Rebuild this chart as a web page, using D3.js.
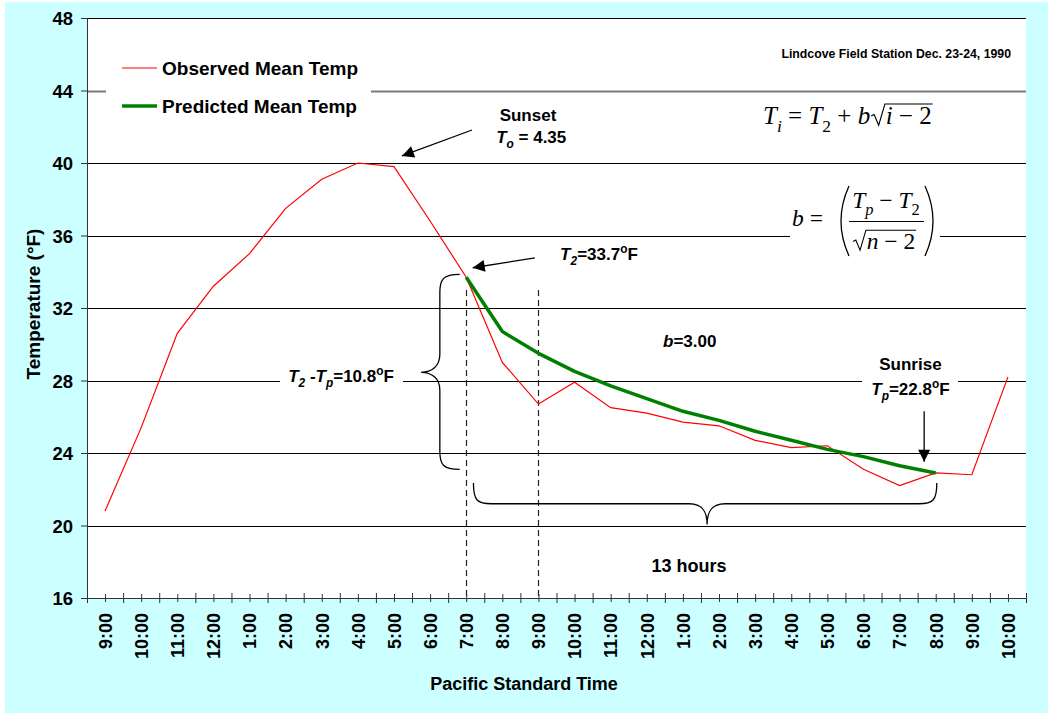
<!DOCTYPE html>
<html><head><meta charset="utf-8">
<script src="https://cdn.jsdelivr.net/npm/d3@7"></script>
<style>
body{margin:0;background:#fff}
svg{display:block}
text{font-family:"Liberation Sans",Arial,Helvetica,sans-serif;fill:#000}
.serif{font-family:"Liberation Serif","Times New Roman",serif}
</style>
</head><body>
<svg id="c" width="1048" height="713"></svg>
<script>
// ---------------- data ----------------
const categories = ["9:00","10:00","11:00","12:00","1:00","2:00","3:00","4:00","5:00","6:00","7:00","8:00","9:00",
  "10:00","11:00","12:00","1:00","2:00","3:00","4:00","5:00","6:00","7:00","8:00","9:00","10:00"];
const observed = [20.8,25.4,30.6,33.2,35.0,37.5,39.1,40.0,39.8,36.8,33.7,29.0,26.7,
  27.9,26.5,26.2,25.7,25.5,24.7,24.3,24.4,23.1,22.2,22.9,22.8,28.2];
const predictedStartIndex = 10;   // 7:00 (sunset + 2h)
const predicted = [33.7,30.7,29.5,28.5,27.7,27.0,26.3,25.8,25.2,24.7,24.2,23.8,23.3,22.9];
const yTicks = [16,20,24,28,32,36,40,44,48];
const seriesNames = ["Observed Mean Temp","Predicted Mean Temp"];
const seriesColors = ["#ff0000","#008000"];

// ---------------- layout ----------------
const W = 1048, H = 713;
const plot = {l:87, t:18, r:1026, b:598};
const svg = d3.select("#c");

const xi = d3.scaleLinear().domain([-0.5, categories.length-0.5]).range([plot.l, plot.r]);
const y = d3.scaleLinear().domain([16,48]).range([plot.b, plot.t]);

// background
svg.append("rect").attr("x",5).attr("y",2).attr("width",W-5).attr("height",H-2).attr("fill","#ccffff");
svg.append("rect").attr("x",plot.l).attr("y",plot.t).attr("width",plot.r-plot.l).attr("height",plot.b-plot.t).attr("fill","#fff");

// gridlines
svg.append("g").selectAll("line").data(yTicks.filter(v=>v>16)).join("line")
  .attr("x1",plot.l).attr("x2",plot.r)
  .attr("y1",d=>Math.round(y(d))+0.5).attr("y2",d=>Math.round(y(d))+0.5)
  .attr("stroke",d=>d===44?"#7a7a7a":"#000")
  .attr("stroke-width",d=>d===44?2:1);

// white boxes that interrupt gridlines
const wbox = (x0,y0,x1,y1)=>svg.append("rect").attr("x",x0).attr("y",y0).attr("width",x1-x0).attr("height",y1-y0).attr("fill","#fff");
wbox(106,48,371,128);          // legend
wbox(280,365,403,392);         // T2-Tp label
wbox(862,352,958,402);         // sunrise label
wbox(790,178,940,258);         // b equation

// vertical dashed lines at 7:00 and 9:00
svg.append("g").selectAll("line").data([10,12]).join("line")
  .attr("x1",d=>Math.round(xi(d))+0.5).attr("x2",d=>Math.round(xi(d))+0.5)
  .attr("y1",y(33.0)).attr("y2",plot.b)
  .attr("stroke","#222").attr("stroke-width",1.2).attr("stroke-dasharray","6,4");

// series
const line = d3.line().x(d=>xi(d[0])).y(d=>y(d[1]));
svg.append("path").datum(observed.map((v,i)=>[i,v])).attr("d",line)
  .attr("fill","none").attr("stroke",seriesColors[0]).attr("stroke-width",1.2);
svg.append("path").datum(predicted.map((v,i)=>[i+predictedStartIndex,v])).attr("d",line)
  .attr("fill","none").attr("stroke",seriesColors[1]).attr("stroke-width",3.5).attr("stroke-linejoin","round");

// braces
(function(){
  const xe = xi(9.82), xs = xi(9.27), xt = xi(8.75);
  const yt = y(33.85), yb = y(23.1), ym = y(28.45);
  const p = `M${xe},${yt} C${xs+3},${yt} ${xs},${yt+5} ${xs},${yt+18} L${xs},${ym-18} C${xs},${ym-6} ${xs-8},${ym} ${xt},${ym}
    C${xs-8},${ym} ${xs},${ym+6} ${xs},${ym+18} L${xs},${yb-18} C${xs},${yb-5} ${xs+3},${yb} ${xe},${yb}`;
  svg.append("path").attr("d",p).attr("fill","none").attr("stroke","#000").attr("stroke-width",1.3);
  const xl = xi(10.2), xr = xi(23.03), xm = xi(16.67);
  const ye = y(22.35), ysp = y(21.2), ytip = y(20.05);
  const q = `M${xl},${ye} C${xl},${ysp-3} ${xl+4},${ysp} ${xl+18},${ysp} L${xm-18},${ysp} C${xm-6},${ysp} ${xm},${ysp+6} ${xm},${ytip}
    C${xm},${ysp+6} ${xm+6},${ysp} ${xm+18},${ysp} L${xr-18},${ysp} C${xr-4},${ysp} ${xr},${ysp-3} ${xr},${ye}`;
  svg.append("path").attr("d",q).attr("fill","none").attr("stroke","#000").attr("stroke-width",1.3);
})();

// arrows
const defs = svg.append("defs");
defs.append("marker").attr("id","ah").attr("viewBox","0 0 10 10").attr("refX",10).attr("refY",5)
  .attr("markerWidth",16).attr("markerHeight",12).attr("markerUnits","userSpaceOnUse").attr("orient","auto")
  .append("path").attr("d","M0,0 L10,5 L0,10 Z").attr("fill","#000");
const arrow = (a,b)=>svg.append("line").attr("x1",xi(a[0])).attr("y1",y(a[1])).attr("x2",xi(b[0])).attr("y2",y(b[1]))
  .attr("stroke","#000").attr("stroke-width",1.3).attr("marker-end","url(#ah)");
arrow([10.16,41.82],[8.22,40.39]);  // sunset
arrow([11.9,34.76],[10.18,34.22]);  // T2
arrow([22.68,26.3],[22.68,23.52]);  // sunrise

// rich text helper
function rich(x, yy, segs, o){
  const t = svg.append("text").attr("x",x).attr("y",yy).attr("text-anchor",o.anchor||"start")
    .style("font-size",o.size+"px").style("font-weight",o.weight||"bold");
  if(o.cls) t.attr("class",o.cls);
  let shift = 0;
  segs.forEach(s=>{
    const target = s.sub ? o.size*0.3 : s.sup ? -o.size*0.42 : 0;
    const ts = t.append("tspan").attr("dy",target-shift).text(s.t);
    shift = target;
    if(s.sub||s.sup) ts.style("font-size",(o.size*0.7)+"px");
    if(s.i) ts.style("font-style","italic");
  });
  return t;
}

// annotation texts
const AS = 17;
rich(xi(11.71), y(42.3), [{t:"Sunset"}], {size:AS, anchor:"middle"});
rich(xi(11.8), y(41.1), [{t:"T",i:1},{t:"o",i:1,sub:1},{t:" = 4.35"}], {size:AS, anchor:"middle"});
rich(xi(12.6), y(34.65), [{t:"T",i:1},{t:"2",i:1,sub:1},{t:"=33.7"},{t:"o",sup:1},{t:"F"}], {size:AS});
rich(xi(15.45), y(29.85), [{t:"b",i:1},{t:"=3.00"}], {size:AS});
rich(xi(5.07), y(27.9), [{t:"T",i:1},{t:"2",i:1,sub:1},{t:" -"},{t:"T",i:1},{t:"p",i:1,sub:1},{t:"=10.8"},{t:"o",sup:1},{t:"F"}], {size:AS});
rich(xi(22.3), y(28.58), [{t:"Sunrise"}], {size:AS, anchor:"middle"});
rich(xi(22.3), y(27.2), [{t:"T",i:1},{t:"p",i:1,sub:1},{t:"=22.8"},{t:"o",sup:1},{t:"F"}], {size:AS, anchor:"middle"});
rich(xi(16.17), y(17.45), [{t:"13 hours"}], {size:18, anchor:"middle"});
svg.append("text").attr("x",1011).attr("y",58).attr("text-anchor","end")
  .style("font-size","12.3px").style("font-weight","bold").text("Lindcove Field Station Dec. 23-24, 1990");

// equations
function radical(x0, yb, s, content){
  const g = svg.append("g");
  const tx = x0 + 0.58*s;
  const t = g.append("text").attr("class","serif").attr("x",tx).attr("y",yb).style("font-size",s+"px");
  content.forEach(c=>{ const ts=t.append("tspan").text(c.t); if(c.i) ts.style("font-style","italic"); });
  const w = t.node().getComputedTextLength();
  const top = yb - 0.8*s;
  g.append("path").attr("d",`M${x0},${yb-0.32*s} L${x0+0.12*s},${yb-0.38*s} L${x0+0.3*s},${yb+0.05*s} L${x0+0.55*s},${top} L${tx+w+1},${top}`)
    .attr("fill","none").attr("stroke","#000").attr("stroke-width",1.1);
  return tx + w - x0;
}
(function(){
  const s = 25, x0 = 763, yb = 124;
  const t = rich(x0, yb, [{t:"T",i:1},{t:"i",i:1,sub:1},{t:" = "},{t:"T",i:1},{t:"2",sub:1},{t:" + "},{t:"b",i:1}], {size:s, weight:"normal", cls:"serif"});
  const w = t.node().getComputedTextLength();
  radical(x0+w+1, yb, s, [{t:"i",i:1},{t:" − 2"}]);
})();
(function(){
  const s = 23.5;
  rich(792, 226, [{t:"b",i:1},{t:" ="}], {size:s, weight:"normal", cls:"serif"});
  svg.append("path").attr("d","M849,186 Q833,221 849,256").attr("fill","none").attr("stroke","#000").attr("stroke-width",1.3);
  svg.append("path").attr("d","M925,186 Q941,221 925,256").attr("fill","none").attr("stroke","#000").attr("stroke-width",1.3);
  rich(886, 208, [{t:"T",i:1},{t:"p",i:1,sub:1},{t:" − "},{t:"T",i:1},{t:"2",sub:1}], {size:s, weight:"normal", cls:"serif", anchor:"middle"});
  svg.append("line").attr("x1",849).attr("x2",924).attr("y1",221.5).attr("y2",221.5).attr("stroke","#000").attr("stroke-width",1.1);
  radical(853, 249, s, [{t:"n",i:1},{t:" − 2"}]);
})();

// legend
const lg = svg.append("g");
seriesNames.forEach((n,k)=>{
  const yy = [68,106][k];
  lg.append("line").attr("x1",122).attr("x2",157).attr("y1",yy).attr("y2",yy)
    .attr("stroke",seriesColors[k]).attr("stroke-width",k?3.5:1.2);
  lg.append("text").attr("x",162).attr("y",yy+6.5).style("font-size","19px").style("font-weight","bold").text(n);
});

// axes
const yAxis = d3.axisLeft(y).tickValues(yTicks).tickSize(6).tickPadding(8).tickFormat(d3.format("d"));
const ya = svg.append("g").attr("transform",`translate(${plot.l},0)`).call(yAxis);
ya.select(".domain").attr("stroke","#333");
ya.selectAll(".tick line").attr("stroke","#333");
ya.selectAll("text").style("font-size","18.5px").style("font-weight","bold").attr("font-family",null).attr("dy","0.36em").attr("x",-14);

const xBound = d3.axisBottom(xi).tickValues(d3.range(-0.5, categories.length, 1)).tickSize(5).tickFormat("");
const xb = svg.append("g").attr("transform",`translate(0,${plot.b})`).call(xBound);
xb.selectAll(".tick line").attr("y1",-5).attr("stroke","#333");
xb.select(".domain").attr("stroke","#333");
const xAxis = d3.axisBottom(xi).tickValues(d3.range(categories.length)).tickSize(4).tickFormat(i=>categories[i]);
const xa = svg.append("g").attr("transform",`translate(0,${plot.b})`).call(xAxis);
xa.select(".domain").remove();
xa.selectAll(".tick line").attr("y1",-4).attr("stroke","#333");
xa.selectAll("text").attr("font-family",null).style("font-size","18px").style("font-weight","bold")
  .attr("text-anchor","end").attr("dy","0.35em").attr("y",0)
  .attr("transform","translate(0,15) rotate(-90)");

// axis titles
svg.append("text").attr("transform","translate(40,304) rotate(-90)").attr("text-anchor","middle")
  .style("font-size","19px").style("font-weight","bold").text("Temperature (°F)");
svg.append("text").attr("x",524).attr("y",690).attr("text-anchor","middle")
  .style("font-size","18px").style("font-weight","bold").text("Pacific Standard Time");
</script>
</body></html>
